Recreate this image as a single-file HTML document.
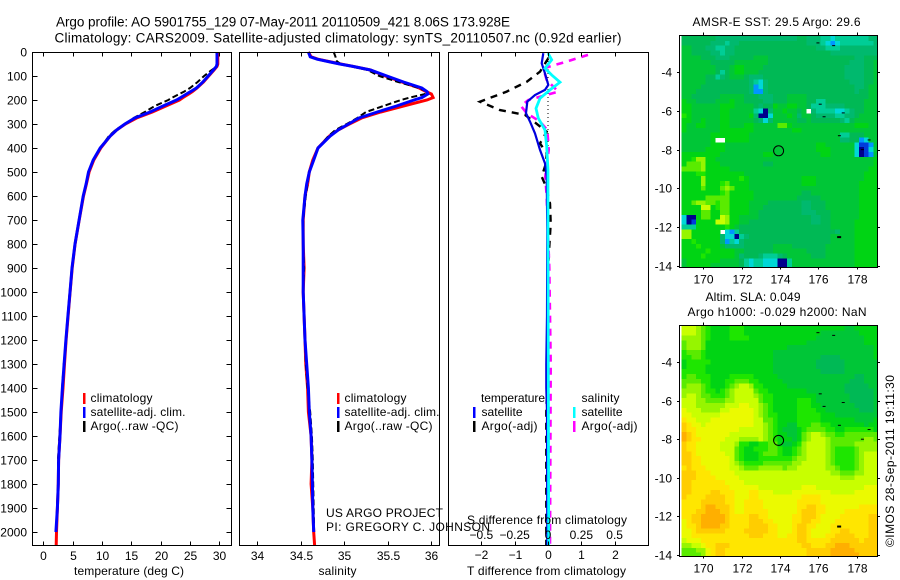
<!DOCTYPE html>
<html lang="en">
<head>
<meta charset="utf-8">
<title>Argo profile</title>
<style>
html,body{margin:0;padding:0;background:#fff;}
svg{display:block;}
text{font-family:"Liberation Sans",sans-serif;font-size:12px;fill:#000;}
.t13{font-size:13.5px;}
</style>
</head>
<body>
<svg id="chart" xmlns="http://www.w3.org/2000/svg" width="900" height="580" viewBox="0 0 900 580">
<defs>
<clipPath id="clip-map-sst"><rect x="679.5" y="35" width="198" height="232"/></clipPath>
<clipPath id="clip-map-sla"><rect x="679.5" y="325.7" width="198" height="231"/></clipPath>
</defs>
<g id="layer-maps"></g>
<g id="layer-lines"></g>
<g id="layer-axes"></g>

<text class="t13" x="56" y="26.5" textLength="454" lengthAdjust="spacing">Argo profile: AO 5901755_129 07-May-2011 20110509_421 8.06S 173.928E</text>
<text class="t13" x="54.5" y="42.5" textLength="567" lengthAdjust="spacing">Climatology: CARS2009. Satellite-adjusted climatology: synTS_20110507.nc (0.92d earlier)</text>

<text x="74" y="575" textLength="110" lengthAdjust="spacing">temperature (deg C)</text>
<text x="318.5" y="575" textLength="38" lengthAdjust="spacing">salinity</text>
<text x="467" y="575" textLength="159" lengthAdjust="spacing">T difference from climatology</text>
<text x="467" y="524" textLength="160" lengthAdjust="spacing">S difference from climatology</text>

<g>
<rect x="83" y="393" width="2.5" height="11" fill="#f00"/>
<rect x="83" y="407" width="2.5" height="11" fill="#00f"/>
<rect x="83" y="421" width="2.5" height="11" fill="#000"/>
<text x="90.5" y="402" textLength="62" lengthAdjust="spacing">climatology</text>
<text x="90.5" y="416" textLength="95" lengthAdjust="spacing">satellite-adj. clim.</text>
<text x="90.5" y="430" textLength="88" lengthAdjust="spacing">Argo(..raw -QC)</text>
</g>
<g>
<rect x="337" y="393" width="2.5" height="11" fill="#f00"/>
<rect x="337" y="407" width="2.5" height="11" fill="#00f"/>
<rect x="337" y="421" width="2.5" height="11" fill="#000"/>
<text x="344.5" y="402" textLength="62" lengthAdjust="spacing">climatology</text>
<text x="344.5" y="416" textLength="95" lengthAdjust="spacing">satellite-adj. clim.</text>
<text x="344.5" y="430" textLength="88" lengthAdjust="spacing">Argo(..raw -QC)</text>
</g>
<g>
<text x="481" y="402" textLength="64" lengthAdjust="spacing">temperature</text>
<text x="581.5" y="402" textLength="38" lengthAdjust="spacing">salinity</text>
<rect x="473" y="407" width="2.5" height="11" fill="#00f"/>
<rect x="473" y="421" width="2.5" height="11" fill="#000"/>
<rect x="573" y="407" width="2.5" height="11" fill="#0ff"/>
<rect x="573" y="421" width="2.5" height="11" fill="#f0f"/>
<text x="481.5" y="416" textLength="41" lengthAdjust="spacing">satellite</text>
<text x="481.5" y="430" textLength="56" lengthAdjust="spacing">Argo(-adj)</text>
<text x="581.5" y="416" textLength="41" lengthAdjust="spacing">satellite</text>
<text x="581.5" y="430" textLength="56" lengthAdjust="spacing">Argo(-adj)</text>
</g>
<text x="326" y="517" textLength="117" lengthAdjust="spacing">US ARGO PROJECT</text>
<text x="326" y="531" textLength="164" lengthAdjust="spacing">PI: GREGORY C. JOHNSON</text>

<text x="692.5" y="26" textLength="168" lengthAdjust="spacing">AMSR-E SST: 29.5 Argo: 29.6</text>
<text x="705.5" y="301" textLength="95" lengthAdjust="spacing">Altim. SLA: 0.049</text>
<text x="687.5" y="316" textLength="179" lengthAdjust="spacing">Argo h1000: -0.029 h2000: NaN</text>
<text transform="translate(894,547) rotate(-90)" textLength="172" lengthAdjust="spacing">©IMOS 28-Sep-2011 19:11:30</text>
</svg>
<script>
// ---- profile data ----
const depths = [0,20,30,40,50,60,75,100,125,150,165,175,190,200,225,250,275,300,325,350,400,450,500,550,600,700,800,900,1000,1100,1200,1300,1400,1500,1600,1700,1800,1900,2000,2055];
const tempClim = [29.75,29.75,29.75,29.75,29.75,29.6,29.1,28.2,27.3,26.2,25.4,24.8,23.8,23.2,20.9,18.6,15.9,14.0,12.5,11.4,9.8,8.6,7.8,7.35,6.85,6.12,5.42,4.93,4.57,4.22,3.88,3.62,3.35,3.05,2.85,2.6,2.55,2.4,2.25,2.2];
const tempSat = [29.6,29.6,29.6,29.6,29.6,29.5,29.0,28.1,27.2,26.1,25.1,24.4,23.4,22.7,20.4,18.2,15.6,13.9,12.5,11.4,9.7,8.5,7.7,7.3,6.8,6.1,5.4,4.9,4.55,4.2,3.85,3.55,3.25,3.0,2.85,2.6,2.55,2.4,2.15];
const tempArgo = [29.7,29.7,29.7,29.7,29.7,29.6,28.7,27.4,26.3,25.0,24.0,23.2,22.0,21.3,19.0,17.3,15.4,13.9,12.3,11.2,9.7,8.5,7.7,7.3,6.8,6.1,5.45,4.95,4.5,4.2,3.9,3.5,3.2,3.05,2.75,2.5,2.5,2.35,2.2];
const salClim = [34.59,34.62,34.70,34.83,34.96,35.1,35.3,35.47,35.66,35.86,35.94,36.0,36.02,35.95,35.68,35.42,35.2,35.06,34.93,34.83,34.7,34.64,34.6,34.58,34.55,34.53,34.53,34.54,34.53,34.54,34.55,34.56,34.58,34.59,34.62,34.63,34.62,34.64,34.65,34.66];
const salSat = [34.59,34.61,34.69,34.82,34.95,35.1,35.3,35.49,35.68,35.89,35.95,35.96,35.89,35.8,35.6,35.38,35.17,35.05,34.93,34.84,34.7,34.65,34.6,34.57,34.55,34.525,34.53,34.53,34.53,34.54,34.55,34.57,34.59,34.6,34.62,34.63,34.635,34.64,34.65];
const salArgo = [34.88,34.9,34.9,34.92,34.96,35.08,35.27,35.4,35.62,35.86,35.95,35.93,35.75,35.65,35.45,35.25,35.15,35.03,34.9,34.82,34.7,34.65,34.6,34.58,34.56,34.53,34.53,34.54,34.53,34.54,34.55,34.56,34.58,34.61,34.63,34.64,34.645,34.65,34.655];

const diffTSatDepth = [5,47,89,137,158,179,207,255,290,339,408,464,519,742,1100,1300,1400,1500,2055];
const diffTSat = [-0.14,-0.19,-0.09,0.01,-0.09,-0.39,-0.62,-0.66,-0.54,-0.39,-0.24,-0.09,-0.04,-0.02,-0.03,-0.05,-0.05,-0.03,-0.02];
const diffSSatDepth = [5,33,68,96,126,158,193,235,276,325,394,492,742,2055];
const diffSSat = [0,0.0275,-0.0225,0.0275,0.09,0.015,-0.06,-0.09,-0.0725,-0.0225,-0.01,0,0,0.005];
const diffTArgoDepth = [26,82,124,165,207,242,262,283,332,381,422,464,519,561,631,714,900,1100,1400,1500,2055];
const diffTArgo = [0.01,-0.24,-0.64,-1.24,-2.04,-1.44,-0.69,-0.49,-0.04,-0.24,-0.04,-0.06,-0.19,-0.06,0.06,0.08,0.0,0.0,-0.03,-0.05,-0.05];
const diffSArgoDepth = [12,44,68,117,165,200,225,255,290,325,408,519,603,900,1300,2055];
const diffSArgo = [0.3,0.115,-0.035,-0.01,0.0775,-0.1475,-0.2025,-0.16,-0.06,-0.005,0.005,-0.02,-0.01,0.01,0.02,0.015];

// ---- tick labels ----
const depthTicks = [0,100,200,300,400,500,600,700,800,900,1000,1100,1200,1300,1400,1500,1600,1700,1800,1900,2000];
const tempTicks = [0,5,10,15,20,25,30];
const salTicks = [34,34.5,35,35.5,36];
const diffTTicks = [-2,-1,0,1,2];
const diffSTicks = [-0.5,-0.25,0,0.25,0.5];
const lonTicks = [170,172,174,176,178];
const latTicks = [-4,-6,-8,-10,-12,-14];

// ---- map data ----
const gridLon0 = 169;
const gridLat0 = -2.25;
const gridStep = 0.25;
const argoLon = 173.928;
const argoLat = -8.06;
const coastLon = [175.98,176.8,176.1,177.3,176.3,177.1,178.65,178.3,177.06];
const coastLat = [-2.48,-2.62,-5.65,-6.1,-6.3,-7.28,-7.5,-8.0,-12.5];

const sstGrid = [
[6,6,6,6,6,6,6,5,5,5,5,5,5,5,5,5,5,5,5,5,5,5,5,5,6,6,5,5,5,4,4,3,4,4,4,4,4,4,4,5,5],
[6,6,6,6,6,6,5,5,5,4,5,5,6,6,6,6,6,6,6,6,6,6,6,6,6,6,5,5,5,4,3,2,3,4,4,4,4,4,4,4,5],
[7,7,6,6,6,5,5,4,4,5,5,6,6,6,6,6,6,6,6,6,6,6,6,6,6,6,6,6,5,5,4,4,4,5,5,5,5,5,5,5,5],
[7,7,6,6,6,6,5,5,4,5,5,6,6,6,6,6,6,6,6,6,6,6,6,6,6,6,6,6,6,6,6,5,5,5,5,5,5,5,5,5,5],
[7,7,7,7,6,6,6,5,5,5,6,6,6,6,6,7,7,7,6,6,6,6,6,6,6,6,6,6,6,6,6,6,6,6,6,6,5,5,6,6,6],
[7,7,7,7,7,7,6,6,6,6,6,7,7,7,7,7,7,7,6,6,6,6,6,6,6,6,6,6,6,6,6,6,6,6,6,5,5,5,6,6,7],
[7,7,7,7,7,7,7,6,6,6,7,8,8,7,7,7,7,6,6,6,6,6,6,6,6,6,6,6,6,6,6,6,6,6,5,5,5,5,6,6,7],
[7,7,7,7,7,7,7,6,4,6,7,8,8,7,7,7,6,6,6,6,6,6,6,6,6,6,6,6,6,6,6,6,6,6,5,5,5,5,6,6,7],
[7,7,7,7,7,6,6,4,5,6,7,7,7,6,5,5,5,6,6,6,6,6,6,6,6,6,6,6,6,6,6,6,6,6,5,5,5,5,6,6,7],
[7,7,7,7,7,6,6,6,6,6,6,6,6,6,5,4,3,5,6,6,6,6,6,6,6,6,6,6,6,6,6,6,6,6,6,5,5,5,6,6,7],
[7,7,7,7,6,6,6,6,6,6,6,6,6,6,5,2,3,5,6,6,6,6,6,6,6,6,6,6,6,6,6,6,6,6,6,6,5,5,6,7,7],
[7,7,7,6,6,6,6,6,6,6,6,6,6,6,5,2,2,5,6,6,6,6,6,6,6,6,6,6,6,6,6,6,6,6,6,6,5,6,6,7,7],
[7,7,6,6,6,6,6,6,7,7,7,7,7,6,6,6,5,5,5,6,6,6,7,7,7,7,6,6,6,6,6,6,6,6,6,6,6,6,6,7,7],
[8,7,7,6,6,6,6,7,7,7,8,7,7,6,6,6,6,5,5,6,6,6,7,7,7,7,6,6,4,4,6,6,6,6,6,6,6,6,7,7,7],
[8,8,7,7,7,7,7,7,8,8,8,7,7,7,7,6,5,6,6,8,7,7,8,8,7,7,6,4,4,4,5,5,5,5,6,6,6,6,7,7,7],
[8,8,7,7,7,7,7,7,8,8,7,7,7,7,7,4,3,0,5,7,7,8,7,7,6,7,null,5,4,4,4,4,3,3,4,5,6,6,7,7,7],
[9,8,7,7,7,7,7,7,8,8,7,7,7,7,8,5,0,0,3,7,7,7,8,7,5,7,7,6,5,5,5,5,4,4,5,5,6,7,7,7,7],
[8,8,7,7,8,7,7,7,8,8,7,7,7,7,7,6,5,3,5,7,7,7,7,7,6,6,7,6,6,6,6,6,6,5,4,6,7,7,7,7,7],
[8,7,7,8,8,7,7,7,8,8,7,7,7,8,8,7,7,7,7,7,10,10,8,7,7,7,7,7,7,7,7,7,7,7,7,7,8,8,8,7,7],
[8,7,7,7,7,7,7,7,8,8,8,8,8,8,8,7,7,7,7,7,7,7,7,8,8,7,7,7,7,7,7,7,7,7,7,7,7,7,7,7,7],
[7,7,7,7,7,7,8,8,8,8,8,8,8,8,7,7,7,7,7,7,7,7,7,7,7,7,7,7,7,7,7,7,7,4,4,6,6,6,7,7,7],
[7,7,7,7,7,7,8,null,null,8,8,8,8,8,7,7,7,7,7,7,7,7,7,7,7,7,7,7,7,7,7,7,7,5,5,6,6,2,3,7,7],
[7,7,7,7,7,7,8,8,8,7,7,7,7,7,7,7,7,7,7,7,7,7,7,7,7,7,7,7,8,8,7,7,7,7,7,7,3,1,1,2,7],
[7,7,7,7,7,8,8,8,8,7,7,7,7,7,7,7,7,7,7,7,7,7,7,7,7,7,7,7,8,8,8,7,7,7,7,7,3,0,1,3,7],
[8,8,8,8,8,8,8,8,7,7,7,7,7,7,7,7,7,8,8,7,7,7,7,7,7,7,7,7,7,8,8,7,7,7,7,7,3,0,1,2,7],
[8,8,9,11,11,8,8,7,7,7,7,7,7,7,7,7,7,7,7,7,7,7,7,7,7,7,7,7,7,7,7,7,7,7,7,7,7,7,7,7,8],
[8,10,10,10,11,8,8,8,7,7,7,7,7,7,7,7,7,6,6,7,7,7,7,7,7,7,7,7,7,7,7,7,7,7,7,7,7,7,7,7,8],
[10,10,10,10,11,8,8,8,8,8,7,7,7,7,7,7,7,7,7,7,7,7,7,7,7,7,7,7,7,7,7,7,7,7,7,7,7,7,7,8,8],
[8,8,8,9,9,8,8,8,8,8,8,8,8,7,7,7,7,7,7,7,7,7,7,7,7,7,7,7,7,7,7,7,7,7,7,7,7,7,8,8,8],
[8,8,8,8,11,8,8,8,8,8,8,8,9,8,7,7,7,7,7,7,7,7,7,7,7,8,8,8,7,7,7,7,7,7,7,7,7,7,8,8,8],
[8,8,8,8,11,8,8,8,9,10,8,8,8,8,7,7,7,7,7,7,7,7,7,7,7,8,8,8,7,7,7,7,7,7,7,7,7,8,8,8,8],
[8,8,8,8,10,8,8,8,10,11,10,8,8,8,7,7,7,7,7,7,7,7,7,7,7,7,7,7,7,7,7,7,7,7,7,7,7,8,8,8,8],
[8,8,8,8,8,8,8,8,9,10,8,8,8,8,8,7,7,7,7,7,7,7,7,7,7,6,6,7,7,7,7,7,7,7,7,7,7,8,8,8,8],
[8,8,8,8,8,10,10,10,10,10,8,8,8,8,8,7,7,7,7,7,7,7,7,7,6,6,6,6,6,7,7,7,7,7,7,7,7,8,8,8,8],
[8,8,10,11,11,10,10,9,10,10,8,8,8,8,7,7,7,7,6,6,6,6,6,6,6,5,5,6,6,6,7,7,7,7,7,7,7,8,8,8,8],
[8,8,8,8,12,12,8,9,10,10,8,8,8,8,7,7,7,6,6,6,6,6,6,6,6,5,5,6,6,6,7,7,7,7,7,7,7,8,8,8,8],
[8,8,8,8,10,10,8,8,10,10,8,8,8,8,7,7,6,6,6,6,6,6,6,6,6,5,5,5,6,6,6,7,7,7,7,7,7,8,8,8,8],
[3,0,0,8,10,10,8,8,12,11,8,8,7,7,7,7,6,6,6,6,6,6,6,6,6,6,6,5,5,6,6,7,7,7,7,7,7,8,8,8,8],
[3,0,1,8,8,8,8,12,12,11,8,8,7,7,6,6,6,6,6,6,6,6,6,6,6,6,6,5,5,6,6,7,7,7,7,7,8,8,8,8,8],
[4,4,4,8,8,8,8,8,8,9,8,7,6,6,6,6,6,6,6,6,6,6,6,6,6,6,6,6,6,6,6,7,7,7,7,7,8,8,8,8,8],
[11,11,8,8,8,8,8,8,null,3,2,4,6,6,6,6,6,6,6,6,6,6,6,6,6,6,6,6,6,6,6,6,5,7,7,7,8,8,8,8,8],
[11,11,8,8,8,8,8,8,5,3,3,0,4,5,6,6,6,6,6,6,6,6,6,6,6,6,6,6,6,6,6,7,7,7,7,7,8,8,8,8,8],
[8,8,9,8,8,8,8,8,5,2,4,3,5,6,6,6,6,6,6,6,6,6,6,6,6,6,6,6,6,6,6,7,7,7,7,7,8,8,8,8,8],
[8,8,8,9,8,8,8,8,7,5,5,5,5,6,6,6,6,6,6,7,7,7,7,6,6,6,6,6,6,6,7,7,7,7,7,7,8,8,8,8,8],
[8,8,8,8,8,9,8,8,8,8,8,7,7,6,6,6,6,6,6,7,7,7,7,7,7,7,6,6,6,6,7,7,7,7,7,7,8,8,8,8,8],
[8,8,8,8,9,8,8,8,8,8,8,7,5,6,6,6,5,4,4,4,5,6,7,7,7,7,7,6,6,6,7,7,7,7,7,7,8,8,8,8,8],
[7,8,8,8,8,8,8,8,7,7,7,7,6,4,3,4,4,3,3,3,0,0,4,7,7,7,7,7,7,7,7,7,7,7,7,7,8,8,8,8,8],
[7,8,8,8,8,8,7,7,7,7,7,7,6,4,3,4,4,3,3,3,0,0,4,7,7,7,7,7,7,7,7,7,7,7,7,7,8,8,8,8,8]
];

const slaGrid = [
[12,12,12,11,10,9,8,8,8,8,9,9,9,8,8,8,8,8,8,8,8,8,8,8,8,8,8,8,8,8,8,8,8,8,7,7,8,8,8,8,8],
[12,12,12,11,10,9,8,8,8,8,9,9,9,8,8,8,8,8,8,8,8,8,8,8,8,8,8,8,8,7,7,7,7,7,7,7,7,8,8,8,8],
[11,11,11,11,10,9,8,8,8,8,9,9,9,9,8,8,8,8,8,8,8,8,8,8,8,8,8,8,7,7,7,7,7,7,7,7,7,7,8,8,8],
[10,11,11,11,10,8,8,8,8,8,8,8,8,8,8,8,8,8,8,8,8,8,8,8,8,8,7,7,7,7,7,7,7,7,7,7,7,7,8,8,8],
[10,11,11,11,10,8,8,8,8,8,8,8,8,8,8,8,8,8,8,8,8,8,7,7,7,7,7,7,7,7,7,7,7,7,7,7,7,7,7,7,8],
[9,10,10,10,9,8,8,8,8,8,8,8,8,8,8,8,8,8,8,7,7,7,7,7,7,7,7,7,7,7,7,7,7,7,7,7,7,7,7,7,8],
[9,9,10,10,9,8,8,8,8,8,8,8,8,8,8,8,8,8,8,7,7,7,7,7,7,7,7,7,7,6,6,6,6,7,7,7,7,7,7,7,8],
[8,9,9,9,9,9,8,8,8,8,8,8,8,8,8,8,8,8,8,7,7,7,7,7,7,7,7,7,6,6,6,6,6,6,7,7,7,7,7,7,7],
[8,9,9,9,9,8,8,8,8,8,8,8,8,8,8,8,8,8,8,7,7,7,7,7,7,7,7,7,6,6,6,6,6,6,7,7,7,7,7,7,7],
[9,9,9,9,9,8,8,8,8,8,8,8,8,8,8,8,8,8,8,7,7,7,7,7,7,7,7,7,7,6,6,6,6,6,7,7,7,7,7,7,7],
[9,10,10,9,9,9,8,8,8,8,9,9,9,9,9,8,8,8,8,8,7,7,7,7,7,7,7,7,7,7,7,7,7,7,7,7,6,6,7,7,7],
[10,10,10,10,9,9,8,8,8,9,9,10,10,10,9,9,8,8,8,8,8,7,7,7,7,7,7,7,7,7,7,7,7,7,7,6,6,6,7,7,7],
[10,11,11,11,10,9,8,8,8,9,10,11,12,12,11,9,9,8,8,8,8,8,7,7,7,7,7,7,7,7,7,7,7,7,6,6,6,6,6,7,7],
[11,11,11,11,10,9,9,8,9,10,11,12,12,12,12,10,9,9,8,8,8,8,8,8,8,8,7,7,7,7,7,7,7,7,6,6,6,6,6,6,7],
[11,12,12,11,10,10,9,9,9,10,11,12,12,12,12,11,10,9,9,8,8,8,8,8,8,8,8,8,7,7,7,7,7,7,7,6,6,6,6,6,7],
[12,12,12,11,11,10,10,10,10,11,11,12,12,12,12,12,10,9,9,8,8,8,8,8,9,9,9,8,7,7,7,7,7,7,7,6,6,6,6,6,7],
[12,12,12,11,11,11,11,11,11,12,12,12,13,13,12,12,11,10,9,8,8,8,8,8,9,9,9,8,8,7,7,7,7,7,7,7,6,6,6,6,7],
[13,12,12,12,11,11,11,11,12,12,13,13,13,13,13,12,11,10,9,8,8,8,8,8,9,9,9,9,8,8,7,7,7,7,7,7,7,6,6,6,7],
[13,13,12,12,12,12,12,12,13,13,13,13,13,13,13,12,11,10,9,9,8,8,8,8,9,9,9,9,9,8,8,8,7,7,7,7,7,7,7,7,7],
[14,13,13,12,12,12,13,13,13,13,13,13,13,13,13,12,12,10,10,9,8,8,8,8,9,9,9,9,9,8,8,8,8,8,8,8,7,7,7,7,8],
[15,14,13,13,12,13,13,13,13,13,13,13,13,13,13,12,12,11,10,9,8,8,7,7,9,9,9,10,10,9,9,8,8,8,8,8,8,8,7,8,8],
[15,14,14,13,13,13,13,13,13,13,13,13,12,12,12,12,12,11,10,9,8,7,7,7,8,9,10,10,10,10,9,9,8,8,9,9,9,9,9,9,8],
[16,15,14,13,13,13,13,13,13,13,12,12,12,12,12,12,12,11,10,9,8,8,7,7,8,10,11,12,12,11,10,10,9,9,10,10,10,10,10,10,10],
[16,15,14,14,13,13,13,13,13,12,12,12,11,11,11,11,12,11,10,9,8,8,8,7,8,10,11,12,12,12,11,10,10,10,10,10,10,10,11,11,10],
[15,14,14,13,13,13,13,13,12,12,12,11,9,9,8,8,9,9,10,10,8,7,7,8,9,11,12,12,12,12,11,10,10,10,10,10,11,11,11,11,11],
[15,14,14,13,13,13,13,13,12,12,12,10,9,8,8,9,9,9,10,10,9,8,8,9,10,11,12,12,12,12,11,10,9,9,9,9,10,11,11,11,11],
[15,15,14,13,13,13,13,13,13,12,12,10,9,8,8,8,9,10,10,10,9,8,8,9,10,11,12,12,12,12,11,10,9,9,9,9,10,11,12,12,12],
[15,15,14,14,13,13,13,13,13,13,12,10,9,8,8,8,9,9,9,9,9,9,9,10,11,11,12,12,12,12,11,10,9,9,9,9,10,11,12,12,12],
[15,15,14,14,13,13,13,13,13,13,12,11,10,9,9,9,9,10,10,10,10,10,10,11,11,12,12,12,12,12,11,10,9,9,9,9,10,11,12,12,12],
[14,15,14,14,14,13,13,13,13,13,12,12,11,10,10,10,11,11,11,11,11,10,11,11,12,12,12,12,12,12,11,11,10,9,9,9,10,11,12,12,12],
[15,15,15,14,14,14,13,13,13,13,13,12,12,12,12,12,12,12,12,12,12,12,12,12,12,12,12,12,12,12,12,11,11,10,10,10,11,11,12,12,12],
[15,15,15,14,14,14,14,13,13,13,13,13,12,12,12,12,12,12,12,12,12,12,12,12,12,12,12,12,12,12,12,12,12,11,11,11,12,12,12,12,12],
[15,15,14,14,14,14,14,14,14,13,13,13,13,12,12,12,12,12,12,12,12,12,12,12,12,12,12,12,12,12,12,12,12,12,12,12,12,12,12,12,12],
[15,15,14,14,14,14,14,14,14,14,13,13,13,13,13,13,12,12,12,12,12,12,12,12,12,13,13,13,12,12,12,12,12,12,12,12,12,12,13,13,13],
[15,15,14,14,14,14,15,15,14,14,14,13,13,13,14,14,13,13,13,12,12,12,12,13,13,13,13,13,13,13,13,12,12,12,12,12,13,13,13,13,13],
[15,14,14,14,14,15,15,15,15,14,14,13,13,13,14,14,13,13,13,13,13,13,13,13,13,14,14,14,14,13,13,13,13,13,13,13,13,13,13,13,13],
[14,14,14,14,15,15,15,15,15,14,14,13,13,14,14,14,14,13,13,13,13,13,13,13,14,14,14,14,14,13,13,13,13,13,13,13,13,13,13,13,13],
[14,14,14,14,15,16,16,15,15,15,14,13,13,14,14,14,14,13,13,13,13,13,13,13,14,14,15,15,14,14,13,13,13,13,13,13,13,14,14,14,14],
[14,14,14,15,15,16,16,16,15,15,14,13,13,14,14,14,14,14,13,13,13,13,13,13,14,15,15,15,14,14,13,13,13,13,14,14,14,14,14,14,14],
[14,14,15,15,16,16,16,16,16,15,14,14,14,14,15,15,14,14,13,13,13,13,13,14,14,15,15,15,14,13,13,13,13,14,14,14,14,14,14,15,15],
[13,14,15,15,16,16,16,16,16,15,14,14,14,14,15,15,15,14,14,13,13,13,13,14,14,15,15,14,14,13,13,13,14,14,14,14,14,14,14,15,15],
[13,14,14,15,16,16,16,16,15,15,14,14,14,14,15,15,15,15,14,14,13,13,13,14,15,15,14,14,13,13,13,14,14,14,14,14,14,14,14,15,15],
[13,13,14,15,15,15,15,15,15,14,14,14,14,15,15,15,15,15,14,14,13,13,13,14,15,15,14,13,13,13,13,14,14,15,15,14,14,14,14,15,15],
[13,13,14,14,14,14,14,14,14,14,14,14,14,14,15,15,15,14,14,14,13,13,14,14,15,15,14,13,13,13,14,14,15,15,15,15,14,14,14,15,15],
[12,13,13,13,14,14,14,14,14,14,14,14,14,14,14,14,14,14,14,14,14,14,14,14,15,15,14,14,14,14,14,15,15,15,15,15,15,14,15,15,15],
[11,11,12,12,13,14,14,15,15,15,14,14,14,14,14,14,14,14,14,14,14,14,14,14,14,15,15,14,14,14,15,15,16,16,16,15,15,15,15,15,15],
[10,10,10,11,11,13,14,15,15,14,14,14,14,14,14,14,14,14,14,14,14,14,14,14,14,14,15,15,15,15,15,16,16,16,16,16,15,15,15,15,15],
[10,10,10,10,11,13,14,15,15,14,14,14,14,14,14,14,14,14,14,14,14,14,14,14,14,14,15,15,15,15,15,16,16,16,16,16,16,15,15,15,15]
];

// ---- scales ----
const NS = 'http://www.w3.org/2000/svg';
const yDepth = d => 52 + 0.24 * d;
const xTemp = t => 43.3 + 5.867 * t;
const xSal = s => 257 + 87.2 * (s - 34);
const xDiffT = v => 548 + 33.33 * v;
const xDiffS = v => 548 + 133.3 * v;
const xLon = lon => 703.3 + 19.17 * (lon - 170);
const ySst = lat => 72.3 + 19.33 * (-4 - lat);
const ySla = lat => 362 + 19.3 * (-4 - lat);

const colorStops = [[0,0,140],[0,60,220],[0,150,255],[0,215,215],[0,205,150],[0,185,110],[0,185,85],[0,198,55],[0,212,20],[30,230,0],[90,235,0],[150,245,0],[200,255,0],[235,250,0],[255,230,0],[255,205,0],[255,175,0]];
function levelColor(v) {
  const i = Math.max(0, Math.min(colorStops.length - 2, Math.floor(v)));
  const f = Math.max(0, Math.min(1, v - i));
  const a = colorStops[i], b = colorStops[i + 1];
  return 'rgb(' + a.map((c, k) => Math.round(c + (b[k] - c) * f)).join(',') + ')';
}

const maps = document.getElementById('layer-maps');
const plots = document.getElementById('layer-lines');
const axes = document.getElementById('layer-axes');

function make(tag, parent, props) {
  const el = document.createElementNS(NS, tag);
  for (const k in props) el.setAttribute(k, props[k]);
  parent.appendChild(el);
  return el;
}

function drawProfile(parent, xs, ds, xScale, color, width, dash, name) {
  const pts = xs.map((v, i) => xScale(v).toFixed(1) + ',' + yDepth(ds[i]).toFixed(1)).join(' ');
  const props = {points: pts, fill: 'none', stroke: color, 'stroke-width': width};
  if (dash) props['stroke-dasharray'] = dash;
  const el = make('polyline', parent, props);
  
  
}

// temperature panel
drawProfile(plots, tempClim, depths, xTemp, '#f00', 3, null, 'temperature-climatology-line');
drawProfile(plots, tempArgo, depths, xTemp, '#000', 2, '6 3', 'temperature-argo-line');
drawProfile(plots, tempSat, depths, xTemp, '#00f', 3, null, 'temperature-satellite-line');
// salinity panel
drawProfile(plots, salClim, depths, xSal, '#f00', 3, null, 'salinity-climatology-line');
drawProfile(plots, salArgo, depths, xSal, '#000', 2, '6 3', 'salinity-argo-line');
drawProfile(plots, salSat, depths, xSal, '#00f', 3, null, 'salinity-satellite-line');
// difference panel
const zeroLine = make('line', plots, {x1: xDiffT(0), x2: xDiffT(0), y1: 53, y2: 545, stroke: '#000', 'stroke-width': 1, 'stroke-dasharray': '1 3'});


drawProfile(plots, diffTArgo, diffTArgoDepth, xDiffT, '#000', 2.4, '7 6', 't-difference-argo-line');
drawProfile(plots, diffSArgo, diffSArgoDepth, xDiffS, '#f0f', 2.6, '7 6', 's-difference-argo-line');
drawProfile(plots, diffTSat, diffTSatDepth, xDiffT, '#00d', 2.2, null, 't-difference-satellite-line');
drawProfile(plots, diffSSat, diffSSatDepth, xDiffS, '#0ff', 2.8, null, 's-difference-satellite-line');

// heatmaps
function drawGrid(grid, yScale, clipId, topEdge, name) {
  const g = make('g', maps, {'clip-path': 'url(#' + clipId + ')'});
  
  
  grid.forEach((row, r) => {
    row.forEach((v, c) => {
      if (v === null) return;
      const lon = gridLon0 + c * gridStep;
      const lat = gridLat0 - r * gridStep;
      const x0 = xLon(lon - gridStep / 2);
      const x1 = xLon(lon + gridStep / 2);
      const y0 = r === 0 ? topEdge : yScale(lat + gridStep / 2);
      const y1 = yScale(lat - gridStep / 2);
      const cell = make('rect', g, {x: x0.toFixed(2), y: y0.toFixed(2), width: (x1 - x0 + 0.4).toFixed(2), height: (y1 - y0 + 0.4).toFixed(2), fill: levelColor(v), 'shape-rendering': 'crispEdges'});
      
      
    });
  });
  coastLon.forEach((lon, i) => {
    const big = i === coastLon.length - 1;
    const speck = make('rect', g, {x: xLon(lon) - 1.5, y: yScale(coastLat[i]) - 0.5, width: big ? 4 : 3, height: big ? 2 : 1, fill: '#000'});
    
    
  });
  const marker = make('circle', g, {cx: xLon(argoLon).toFixed(1), cy: yScale(argoLat).toFixed(1), r: 5, fill: 'none', stroke: '#000', 'stroke-width': 1});
  
  
}
drawGrid(sstGrid, ySst, 'clip-map-sst', 35, 'sst-heatmap');
drawGrid(slaGrid, ySla, 'clip-map-sla', 325.7, 'sla-heatmap');

// axes
function frame(x0, y0, x1, y1, name) {
  const r = make('rect', axes, {x: x0, y: y0, width: x1 - x0, height: y1 - y0, fill: 'none', stroke: '#000', 'stroke-width': 1, 'shape-rendering': 'crispEdges'});
  
  
}
function tick(x1, y1, x2, y2) {
  const l = make('line', axes, {x1: x1, y1: y1, x2: x2, y2: y2, stroke: '#000', 'stroke-width': 1, 'shape-rendering': 'crispEdges'});
  
  
}
function label(txt, x, y, anchor) {
  const t = make('text', axes, {x: x, y: y, 'text-anchor': anchor});
  t.textContent = txt;
  
  
}

frame(32.5, 52.5, 231.5, 545.5, 'temperature-panel-frame');
frame(239.5, 52.5, 439.5, 545.5, 'salinity-panel-frame');
frame(448.5, 52.5, 648.5, 545.5, 'difference-panel-frame');
frame(679.5, 35.5, 877.5, 267.5, 'sst-map-frame');
frame(679.5, 325.5, 877.5, 556.5, 'sla-map-frame');

depthTicks.forEach(d => {
  const y = Math.round(yDepth(d)) + 0.5;
  tick(32.5, y, 37.5, y);
  tick(226.5, y, 231.5, y);
  label(String(d), 27, y + 4, 'end');
});
tempTicks.forEach(t => {
  const x = Math.round(xTemp(t)) + 0.5;
  tick(x, 52.5, x, 56.5);
  tick(x, 541.5, x, 545.5);
  label(String(t), x, 560, 'middle');
});
salTicks.forEach(s => {
  const x = Math.round(xSal(s)) + 0.5;
  tick(x, 52.5, x, 56.5);
  tick(x, 541.5, x, 545.5);
  label(String(s), x, 560, 'middle');
});
diffTTicks.forEach(v => {
  const x = Math.round(xDiffT(v)) + 0.5;
  tick(x, 52.5, x, 56.5);
  tick(x, 541.5, x, 545.5);
  label(String(v).replace('-', '\u2212'), x, 559, 'middle');
});
diffSTicks.forEach(v => {
  label(String(v).replace('-', '\u2212'), xDiffS(v), 539, 'middle');
});
function mapAxes(yScale, top, bottom) {
  lonTicks.forEach(lon => {
    const x = Math.round(xLon(lon)) + 0.5;
    tick(x, top, x, top - 3);
    tick(x, bottom, x, bottom + 2);
    label(String(lon), x, bottom + 16, 'middle');
  });
  latTicks.forEach(lat => {
    const y = Math.round(yScale(lat)) + 0.5;
    tick(677, y, 679.5, y);
    tick(877.5, y, 880, y);
    label(String(lat), 672, y + 4, 'end');
  });
}
mapAxes(ySst, 35.5, 267.5);
mapAxes(ySla, 325.5, 556.5);
</script>
</body>
</html>
